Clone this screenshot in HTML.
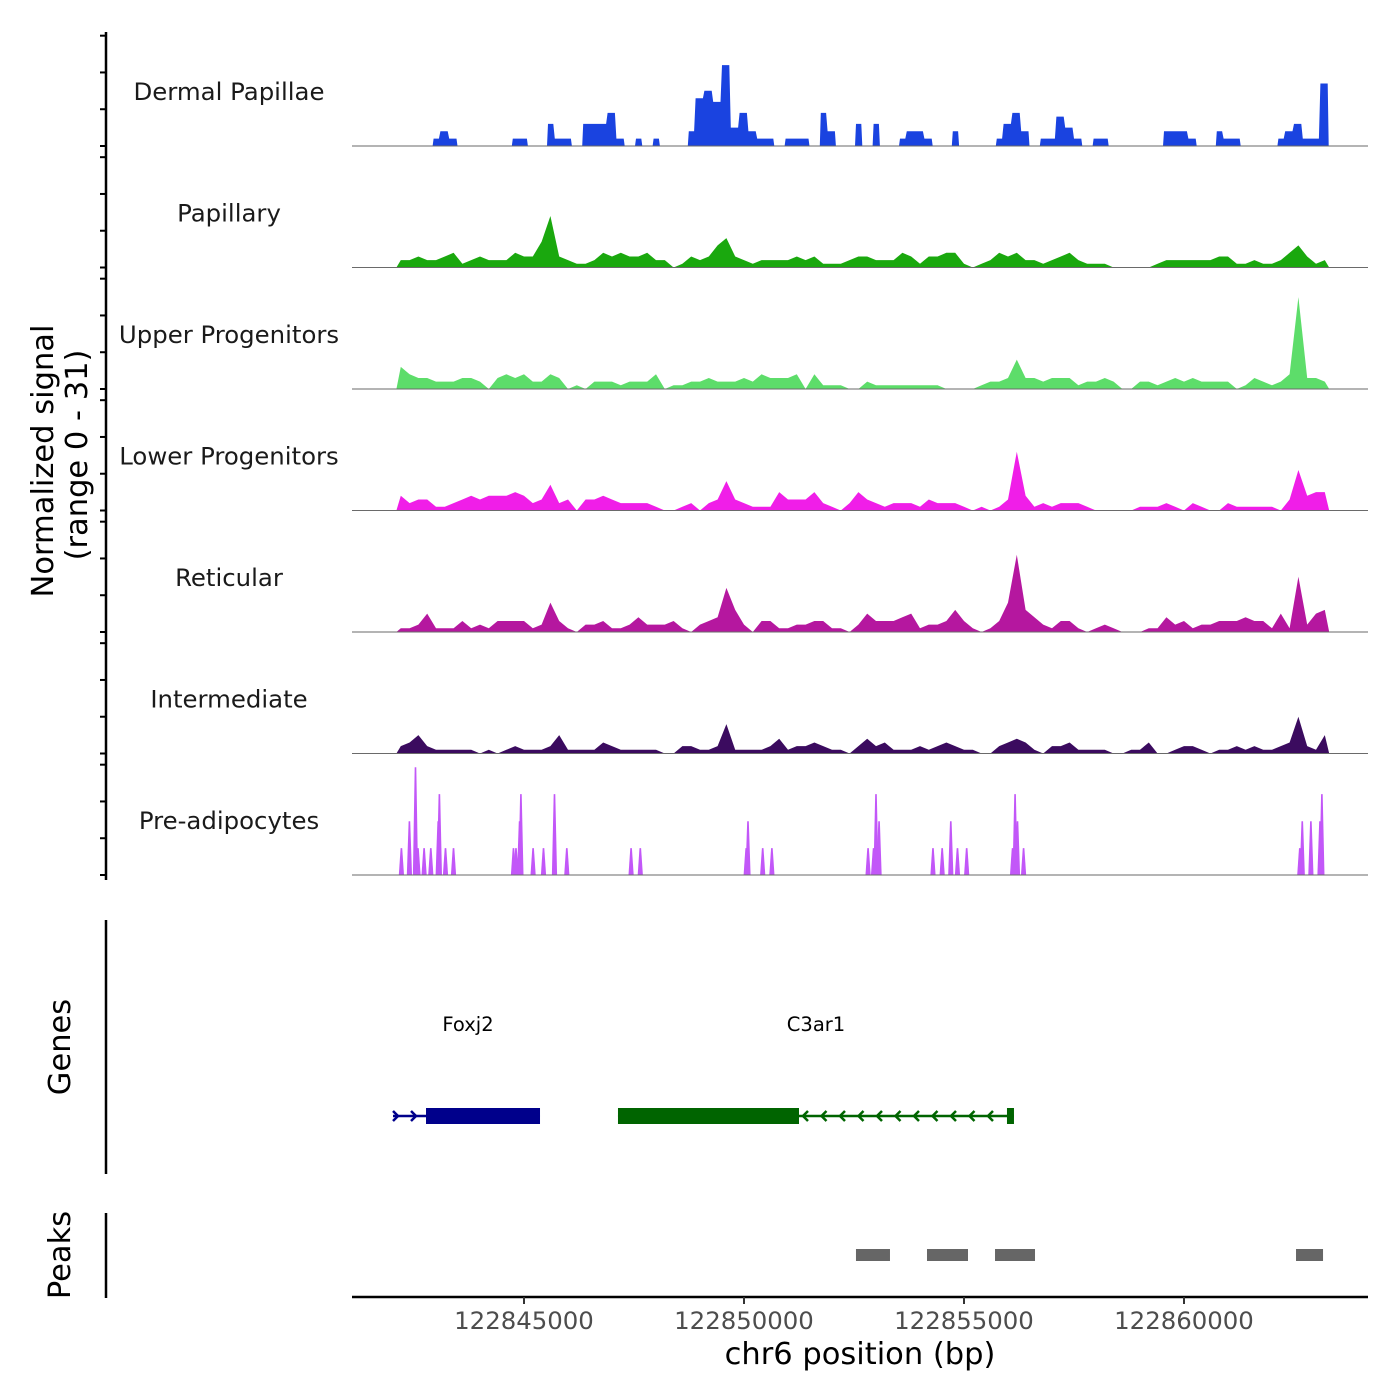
<!DOCTYPE html>
<html><head><meta charset="utf-8"><style>
html,body{margin:0;padding:0;background:#fff;}
svg{display:block;font-family:"DejaVu Sans","Liberation Sans",sans-serif;}
</style></head><body>
<svg id="chart" width="1400" height="1400" viewBox="0 0 1400 1400" xmlns="http://www.w3.org/2000/svg">
<rect width="1400" height="1400" fill="#fff"/>
<g id="tracks"></g>
<g id="genes"></g>
<g id="peaks"></g>
<g id="axes"></g>
<text transform="translate(53,461) rotate(-90)" text-anchor="middle" font-size="30.5" fill="#000">Normalized signal</text>
<text transform="translate(87,455) rotate(-90)" text-anchor="middle" font-size="30.5" fill="#000">(range 0 - 31)</text>
<text transform="translate(70,1047) rotate(-90)" text-anchor="middle" font-size="30.5" fill="#000">Genes</text>
<text transform="translate(70,1255) rotate(-90)" text-anchor="middle" font-size="30.5" fill="#000">Peaks</text>
<text x="860" y="1364" text-anchor="middle" font-size="30.5" fill="#000">chr6 position (bp)</text>
</svg>
<script>
const NS = "http://www.w3.org/2000/svg";
const regionStart = 122841091;
const regionEnd = 122864182;
const binStart = 122842100;
const binSize = 200;
const trackNames = ["Dermal Papillae","Papillary","Upper Progenitors","Lower Progenitors","Reticular","Intermediate","Pre-adipocytes"];
const trackColors = ["#1a43e0","#1aa80e","#5ddd6a","#f01ee8","#b5179f","#3b0b5f","#c257f8"];
const dermalPapillae = [0,0,0,0,2,4,2,0,0,0,0,0,0,2,2,0,0,6,2,2,0,6,6,6,9,2,0,2,0,2,0,0,0,4,13,15,12,22,5,9,4,2,2,0,2,2,2,0,9,4,0,0,6,0,6,0,0,2,4,4,2,0,0,4,0,0,0,0,2,6,9,4,0,2,2,8,5,2,0,2,2,0,0,0,0,0,0,4,4,4,2,0,0,4,2,2,0,0,0,0,2,4,6,2,2,17];
const papillary = [2,2,3,2,2,3,4,1,2,3,2,2,2,4,3,3,7,14,3,2,1,1,2,4,3,4,3,3,4,2,2,0,1,3,2,3,6,8,3,2,1,2,2,2,2,3,2,3,1,1,1,2,3,3,2,2,2,4,3,1,3,3,4,4,1,0,1,2,4,3,4,2,2,1,2,3,4,2,1,1,1,0,0,0,0,0,1,2,2,2,2,2,2,3,3,1,1,2,1,1,2,4,6,3,1,2];
const upperProgenitors = [6,4,3,3,2,2,2,3,3,2,0,3,4,3,4,2,2,4,3,0,1,0,2,2,2,1,2,2,2,4,0,1,1,2,2,3,2,2,2,3,2,4,3,3,3,4,0,4,1,1,1,0,0,2,1,1,1,1,1,1,1,1,0,0,0,0,1,2,2,3,8,3,3,2,3,3,3,1,2,2,3,2,0,0,2,2,1,2,3,2,3,2,2,2,2,0,1,3,2,1,2,4,25,3,3,2];
const lowerProgenitors = [4,2,3,3,1,1,2,3,4,3,4,4,4,5,4,2,3,7,2,3,0,3,3,4,3,2,2,2,2,1,0,0,1,2,0,2,3,8,3,2,1,1,1,5,3,3,3,5,2,1,0,2,5,3,2,1,2,2,2,1,3,2,2,2,1,0,1,0,1,3,16,4,1,2,1,2,2,2,1,0,0,0,0,0,1,1,1,2,1,0,2,1,0,0,2,1,1,1,1,1,0,3,11,4,5,5];
const reticular = [1,1,2,5,1,1,1,3,1,2,1,3,3,3,3,1,2,8,3,1,0,2,2,3,1,1,2,4,2,2,2,3,1,0,2,3,4,12,6,2,0,3,3,1,1,2,2,3,3,1,1,0,2,5,3,3,3,4,5,1,2,2,3,6,3,1,0,1,3,8,21,6,4,2,1,3,3,1,0,1,2,1,0,0,0,1,1,4,2,3,1,2,2,3,3,3,4,3,3,1,5,1,15,2,5,6];
const intermediate = [2,3,5,2,1,1,1,1,1,0,1,0,1,2,1,1,1,2,5,1,1,1,1,3,2,1,1,1,1,1,0,0,2,2,1,1,2,8,1,1,1,1,2,4,1,2,2,3,2,1,1,0,2,4,2,3,1,1,1,2,1,2,3,2,1,1,0,0,2,3,4,3,1,0,2,2,3,1,1,1,1,0,0,1,1,3,0,0,1,2,2,1,0,1,1,2,1,2,1,1,2,3,10,2,1,5];
const preAdipoPositions = [122842214,122842396,122842534,122842591,122842730,122842882,122843050,122843077,122843216,122843398,122844761,122844818,122844900,122844930,122845207,122845443,122845693,122845973,122847434,122847643,122850050,122850091,122850425,122850634,122852820,122852945,122853000,122853070,122854295,122854504,122854700,122854852,122855061,122856104,122856161,122856216,122856354,122862632,122862688,122862884,122863091,122863134];
const preAdipoValues = [7.3,14.6,29.3,7.3,7.3,7.3,14.6,22,7.3,7.3,7.3,7.3,14.6,22,7.3,7.3,22,7.3,7.3,7.3,7.3,14.6,7.3,7.3,7.3,7.3,22,14.6,7.3,7.3,14.6,7.3,7.3,7.3,22,14.6,7.3,7.3,14.6,14.6,14.6,22];
const binnedTracks = [dermalPapillae,papillary,upperProgenitors,lowerProgenitors,reticular,intermediate];
const geneNames = ["Foxj2","C3ar1"];
const geneStarts = [122842023,122847136];
const geneEnds = [122845364,122856136];
const geneCdsStarts = [122842773,122847136];
const geneCdsEnds = [122845364,122851250];
const geneStrands = ["+","-"];
const geneColors = ["#00008b","#006400"];
const peakStarts = [122852545,122854159,122855705,122862546];
const peakEnds = [122853318,122855091,122856614,122863160];
const xTicks = [122845000,122850000,122855000,122860000];
const yTicks = [0,10,20,30];
const yMax = 31;

const plotL = 352, plotR = 1368;
const xScale = bp => plotL + (bp - regionStart) / (regionEnd - regionStart) * (plotR - plotL);
const baseline0 = 146, trackStep = 121.5, trackH = 114;
const yScale = (v, t) => baseline0 + t*trackStep - v / yMax * trackH;

function mk(tag, attrs, parent){ const e=document.createElementNS(NS,tag); for(const k in attrs) e.setAttribute(k,attrs[k]); parent.appendChild(e); return e; }
const tracksG = document.getElementById('tracks');
const axesG = document.getElementById('axes');

trackNames.forEach((name,t)=>{
  const base = yScale(0,t);
  const g = mk('g',{},tracksG);
  
  
  if(t === 0){
    const vals = binnedTracks[t];
    let d = '';
    let open = false;
    vals.forEach((v,i)=>{
      const xa = xScale(binStart + binSize*i), xb = xScale(binStart + binSize*(i+1));
      const y = yScale(v,t).toFixed(1);
      if(v>0){
        if(!open){ d += `M${(xa+1).toFixed(1)},${base} L${(xa+2).toFixed(1)},${y} `; open = true; }
        else d += `L${xa.toFixed(1)},${y} `;
        d += `L${(xb-1.5).toFixed(1)},${y} `;
        if(i+1>=vals.length || vals[i+1]<=0){ d += `L${(xb-0.5).toFixed(1)},${base} Z `; open=false; }
      }
    });
    const p = mk('path',{d:d, fill:trackColors[t]},g);
    
    
  } else if(t < 6){
    const vals = binnedTracks[t];
    let d = 'M' + xScale(binStart).toFixed(1) + ',' + base;
    vals.forEach((v,i)=>{ d += ' L' + xScale(binStart + binSize*(i+0.5)).toFixed(1) + ',' + yScale(v,t).toFixed(1); });
    d += ' L' + xScale(binStart + binSize*vals.length).toFixed(1) + ',' + base + ' Z';
    const p = mk('path',{d:d, fill:trackColors[t]},g);
    
    
  } else {
    preAdipoPositions.forEach((pos,i)=>{
      const x = xScale(pos), y = yScale(preAdipoValues[i],t);
      const p = mk('polygon',{points:`${x-2.6},${base} ${x-0.8},${y} ${x+0.8},${y} ${x+2.6},${base}`, fill:trackColors[t]},g);
      
      
    });
  }
  const bl = mk('line',{x1:plotL,x2:plotR,y1:base,y2:base,stroke:'#6a6a6a','stroke-width':1},g);
  
  
  const lab = mk('text',{x:229,y:base-46,'text-anchor':'middle','font-size':24.4,fill:'#1a1a1a'},g);
  lab.textContent = name;
  
  
  yTicks.forEach(v=>{
    const y = yScale(v,t);
    const tk = mk('line',{x1:100,x2:106,y1:y,y2:y,stroke:'#000','stroke-width':2},axesG);
    
    
  });
});
[[32,880],[920,1174],[1213,1298]].forEach(([a,b])=>{
  const l = mk('line',{x1:106,x2:106,y1:a,y2:b,stroke:'#000','stroke-width':2.5},axesG);
  
  
});
const xl = mk('line',{x1:plotL,x2:plotR,y1:1297,y2:1297,stroke:'#000','stroke-width':2.5},axesG);


xTicks.forEach(v=>{
  const x = xScale(v);
  const tk = mk('line',{x1:x,x2:x,y1:1297,y2:1304,stroke:'#333','stroke-width':2},axesG);
  
  
  const tl = mk('text',{x:x,y:1329,'text-anchor':'middle','font-size':24.4,fill:'#4d4d4d'},axesG);
  tl.textContent = String(v);
  
  
});
const genesG = document.getElementById('genes');
const gy = 1116;
geneNames.forEach((name,i)=>{
  const c = geneColors[i];
  const g = mk('g',{},genesG);
  
  
  const x1 = xScale(geneStarts[i]), x2 = xScale(geneEnds[i]);
  mk('line',{x1:x1,x2:x2,y1:gy,y2:gy,stroke:c,'stroke-width':2.5},g);
  const c1 = xScale(geneCdsStarts[i]), c2 = xScale(geneCdsEnds[i]);
  const box = mk('rect',{x:c1,y:gy-8,width:c2-c1,height:16,fill:c},g);
  
  
  if(geneStrands[i]==='+'){
    for(let x=x1+4; x<c1-4; x+=18){ mk('path',{d:`M${x-4},${gy-5} L${x+1},${gy} L${x-4},${gy+5}`,stroke:c,'stroke-width':2.5,fill:'none'},g); }
  } else {
    const endBox = mk('rect',{x:x2-7,y:gy-8,width:7,height:16,fill:c},g);
    
    
    for(let x=c2+5; x<x2-12; x+=18.5){ mk('path',{d:`M${x+4},${gy-5} L${x-1},${gy} L${x+4},${gy+5}`,stroke:c,'stroke-width':2.5,fill:'none'},g); }
  }
  const lab = mk('text',{x:i===0?468:816,y:1031,'text-anchor':'middle','font-size':19.5,fill:'#000'},g);
  lab.textContent = name;
  
  
});
const peaksG = document.getElementById('peaks');
peakStarts.forEach((s,i)=>{
  const r = mk('rect',{x:xScale(s),y:1249,width:xScale(peakEnds[i])-xScale(s),height:12,fill:'#666'},peaksG);
  
  
});
</script>
</body></html>
